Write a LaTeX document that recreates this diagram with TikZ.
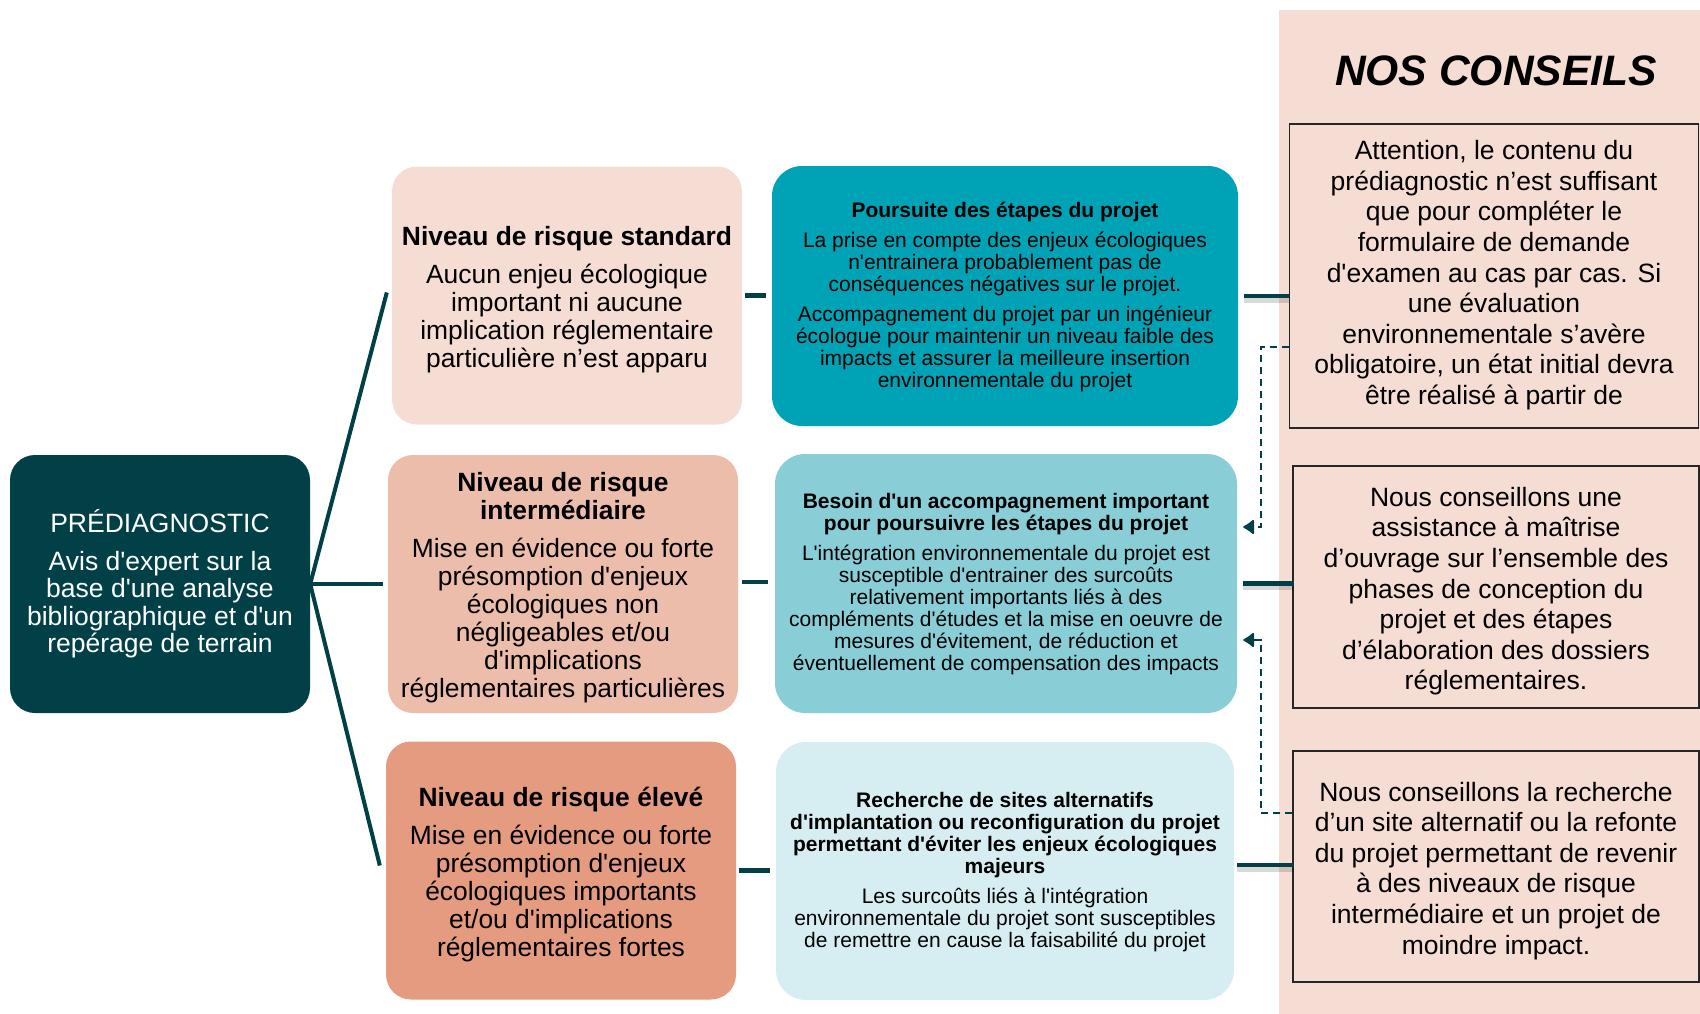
\documentclass[tikz,border=0pt]{standalone}
\usepackage{fontspec}
\setmainfont{Liberation Sans}[Ligatures=TeXOff]
\usetikzlibrary{arrows.meta,calc}
\definecolor{dteal}{RGB}{2,64,72}
\definecolor{cA}{RGB}{0,163,181}
\definecolor{cB}{RGB}{137,206,215}
\definecolor{cC}{RGB}{214,238,241}
\definecolor{rS}{RGB}{246,221,212}
\definecolor{rM}{RGB}{236,189,171}
\definecolor{rH}{RGB}{229,155,128}
\definecolor{panelc}{RGB}{245,221,212}
\newcommand{\toppad}[1]{\rule{0pt}{#1}}
\begin{document}
\begin{tikzpicture}[x=1pt,y=-1pt,
  riskbox/.style={rounded corners=25pt, align=center, inner sep=0pt, minimum width=350pt, minimum height=258pt, font=\fontsize{26.4}{28}\selectfont},
  midbox/.style={rounded corners=30pt, align=center, inner sep=0pt, font=\fontsize{21}{22}\selectfont},
  advbox/.style={draw=black!85, line width=1.3pt, inner sep=0pt},
  advtext/.style={align=center, inner sep=0pt, font=\fontsize{26.5}{30.6}\selectfont},
  link/.style={draw=dteal, line width=4.5pt},
  shadowlink/.style={draw=black, opacity=0.15, line width=5pt},
  dashlink/.style={draw=dteal, line width=1.8pt, dash pattern=on 7pt off 5pt, -{Latex[round,length=12pt,width=17pt]}}
]
\useasboundingbox (0,0) rectangle (1700,1014);
\fill[panelc] (1279,10) rectangle (1700,1014);

\node[fill=dteal, text=white, rounded corners=25pt, minimum width=300pt, minimum height=258pt, align=center, inner sep=0pt, font=\fontsize{26.5}{27.5}\selectfont] (pre) at (160,584)
 {\toppad{21pt}PRÉDIAGNOSTIC\\[10pt]Avis d'expert sur la\\base d'une analyse\\bibliographique et d'un\\repérage de terrain};

\node[riskbox, fill=rS] (std) at (567,295.5)
 {\toppad{26.5pt}\textbf{Niveau de risque standard}\\[10pt]Aucun enjeu écologique\\important ni aucune\\implication réglementaire\\particulière n’est apparu};
\node[riskbox, fill=rM] (mid) at (563,584)
 {\toppad{26.5pt}\textbf{Niveau de risque}\\\textbf{intermédiaire}\\[10pt]Mise en évidence ou forte\\présomption d'enjeux\\écologiques non\\négligeables et/ou\\d'implications\\réglementaires particulières};
\node[riskbox, fill=rH] (high) at (561,870.5)
 {\toppad{26.5pt}\textbf{Niveau de risque élevé}\\[10pt]Mise en évidence ou forte\\présomption d'enjeux\\écologiques importants\\et/ou d'implications\\réglementaires fortes};

\node[midbox, fill=cA, minimum width=466pt, minimum height=260pt] (A) at (1005,296)
 {\toppad{17pt}\textbf{Poursuite des étapes du projet}\\[8pt]La prise en compte des enjeux écologiques\\n'entrainera probablement pas de\\conséquences négatives sur le projet.\\[8pt]Accompagnement du projet par un ingénieur\\écologue pour maintenir un niveau faible des\\impacts et assurer la meilleure insertion\\environnementale du projet};
\node[midbox, fill=cB, minimum width=462pt, minimum height=259pt] (B) at (1006,583.5)
 {\toppad{17pt}\textbf{Besoin d'un accompagnement important}\\\textbf{pour poursuivre les étapes du projet}\\[8pt]L'intégration environnementale du projet est\\susceptible d'entrainer des surcoûts\\relativement importants liés à des\\compléments d'études et la mise en oeuvre de\\mesures d'évitement, de réduction et\\éventuellement de compensation des impacts};
\node[midbox, fill=cC, minimum width=458pt, minimum height=258pt] (C) at (1005,871)
 {\toppad{17pt}\textbf{Recherche de sites alternatifs}\\\textbf{d'implantation ou reconfiguration du projet}\\\textbf{permettant d'éviter les enjeux écologiques}\\\textbf{majeurs}\\[8pt]Les surcoûts liés à l'intégration\\environnementale du projet sont susceptibles\\de remettre en cause la faisabilité du projet};

\node[font=\fontsize{42.6}{46}\selectfont\bfseries\itshape, inner sep=0pt] (title) at (1496,71) {NOS CONSEILS};

\node[advbox, minimum width=409pt, minimum height=304pt] (adv1) at (1494,276) {};
\node[advtext, anchor=north] (adv1t) at ($(adv1.north)+(0,17)$)
 {Attention, le contenu du\\prédiagnostic n’est suffisant\\que pour compléter le\\formulaire de demande\\d'examen au cas par cas. Si\\une évaluation\\environnementale s’avère\\obligatoire, un état initial devra\\être réalisé à partir de};
\node[advbox, advtext, minimum width=406pt, minimum height=242pt] (adv2) at (1496,587)
 {\toppad{27.5pt}Nous conseillons une\\assistance à maîtrise\\d’ouvrage sur l’ensemble des\\phases de conception du\\projet et des étapes\\d’élaboration des dossiers\\réglementaires.};
\node[advbox, advtext, minimum width=406pt, minimum height=231pt] (adv3) at (1496,866.5)
 {\toppad{27.5pt}Nous conseillons la recherche\\d’un site alternatif ou la refonte\\du projet permettant de revenir\\à des niveaux de risque\\intermédiaire et un projet de\\moindre impact.};

% fan
\draw[link, line width=4pt] (pre.east) -- ($(std.west)+(-5,-3)$);
\draw[link, line width=4pt] (pre.east) -- ($(mid.west)+(-5,0)$);
\draw[link, line width=4pt] (pre.east) -- ($(high.west)+(-6,-5)$);

% risk -> middle
\draw[link] ($(std.east)+(3,0)$) -- ($(std.east -| A.west)+(-6,0)$);
\draw[link] ($(mid.east)+(4,-2)$) -- ($(mid.east -| B.west)+(-7,-2)$);
\draw[link] ($(high.east)+(3,0)$) -- ($(high.east -| C.west)+(-6,0)$);

% middle -> advice
\draw[shadowlink] ($(A.east)+(6,4)$) -- ($(A.east -| adv1.west)+(0,4)$);
\draw[link] ($(A.east)+(6,0)$) -- (A.east -| adv1.west);
\draw[shadowlink] ($(B.east)+(6,4)$) -- ($(B.east -| adv2.west)+(2,4)$);
\draw[link] ($(B.east)+(6,0)$) -- ($(B.east -| adv2.west)+(2,0)$);
\draw[shadowlink] ($(C.east)+(3,-2)$) -- ($(C.east -| adv3.west)+(2,-2)$);
\draw[link] ($(C.east)+(3,-6)$) -- ($(C.east -| adv3.west)+(2,-6)$);

% dashed feedback connectors
\coordinate (d1a) at ($(adv1.west)+(0,71)$);
\coordinate (d1k) at (1261,527);
\coordinate (d1b) at ($(B.east)+(6,-56.5)$);
\draw[dashlink] (d1a) -| (d1k) -- (d1b);
\coordinate (d2a) at ($(adv3.west)+(0,-53.5)$);
\coordinate (d2k) at (1261,640);
\coordinate (d2b) at ($(B.east)+(6,56.5)$);
\draw[dashlink] (d2a) -| (d2k) -- (d2b);
\end{tikzpicture}
\end{document}
